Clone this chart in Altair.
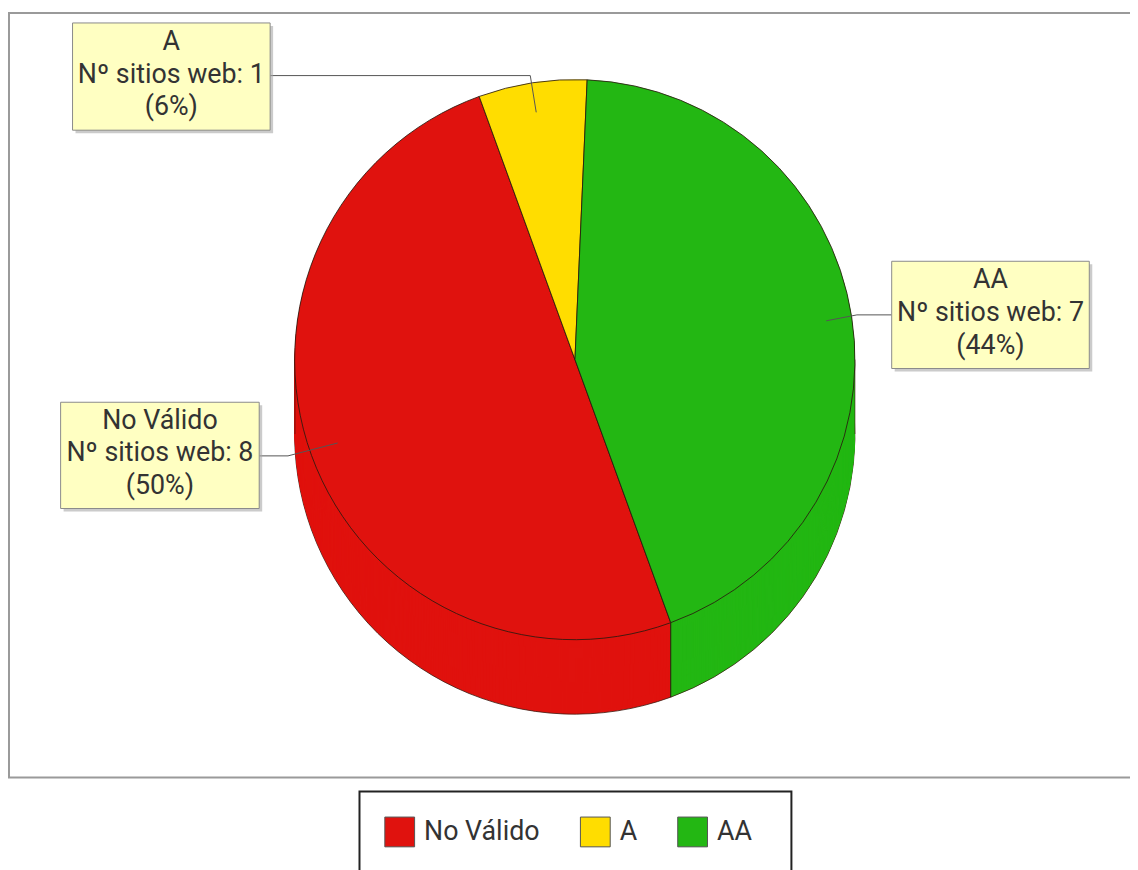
import math
import altair as alt
import pandas as pd

# ---------------- data ----------------
categories = ["No Válido", "A", "AA"]
site_counts = [8, 1, 7]
slice_colors = ["#E0120E", "#FFDD00", "#23B713"]
stack_order = [0, 1, 2]

total = sum(site_counts)
percents = [round(100 * v / total) for v in site_counts]
label_texts = [f"{c}\nNº sitios web: {v}\n({p}%)" for c, v, p in zip(categories, site_counts, percents)]

# ---------------- layout (view pixels) ----------------
W, H = 1130, 862
CX, CY, R, DEPTH = 571, 351, 282, 75
START_DEG = 160  # first slice starts here, clockwise from 12 o'clock
LINE_H = 33

# label boxes: (x0, y0, x1, y1) and connector polylines
label_boxes = [(53, 394, 253, 501), (65, 12, 264, 120), (890, 252, 1089, 360)]
connectors = [
    [(253, 448), (282, 448), (332, 435)],
    [(264, 65), (526, 65), (532, 102)],
    [(890, 306), (855, 306), (824, 312)],
]

df = pd.DataFrame({"cat": categories, "n": site_counts, "ord": stack_order})
one = alt.Data(values=[{"k": 0}])

start = math.radians(START_DEG)
theta = alt.Theta("n:Q", stack=True, scale=alt.Scale(range=[start, start + 2 * math.pi]))
color = alt.Color(
    "cat:N",
    scale=alt.Scale(domain=categories, range=slice_colors),
    legend=alt.Legend(
        title=None, orient="none", legendX=354, legendY=786, direction="horizontal",
        symbolType="square", symbolSize=900, symbolStrokeColor="#555", symbolStrokeWidth=1,
        labelFont="Roboto", labelFontSize=27, labelColor="#333", labelOffset=9,
        columnPadding=38, padding=25,
    ),
)
order = alt.Order("ord:Q")

layers = []

# plot border
layers.append(alt.Chart(one).mark_rect(fill="white", stroke="#9a9a9a", strokeWidth=2).encode(
    x=alt.value(1), x2=alt.value(1140), y=alt.value(2), y2=alt.value(772)))

# 3D pie: stacked copies for the side
for d in range(DEPTH, 0, -1):
    kw = dict(radius=R)
    if d == DEPTH:
        kw.update(stroke="#3a1a10", strokeWidth=1, strokeOpacity=0.8)
    layers.append(alt.Chart(df).mark_arc(**kw).encode(
        theta=theta, color=color, order=order,
        x=alt.value(CX), y=alt.value(CY + d)))

# side edges
edge_x = [CX - R, CX + R]
for ex in edge_x:
    layers.append(alt.Chart(one).mark_rule(color="#3a1a10", strokeWidth=1, opacity=0.6).encode(
        x=alt.value(ex), x2=alt.value(ex), y=alt.value(CY), y2=alt.value(CY + DEPTH)))
# vertical edge at the first slice boundary (front side)
bx = CX + R * math.sin(start)
by = CY - R * math.cos(start)
layers.append(alt.Chart(one).mark_rule(color="#2a1a10", strokeWidth=1).encode(
    x=alt.value(bx), x2=alt.value(bx), y=alt.value(by), y2=alt.value(by + DEPTH)))

# top face
layers.append(alt.Chart(df).mark_arc(radius=R, stroke="#2a1a10", strokeWidth=1, strokeOpacity=0.85).encode(
    theta=theta, color=color, order=order, x=alt.value(CX), y=alt.value(CY)))

# connectors
for pts in connectors:
    for (x0, y0), (x1, y1) in zip(pts[:-1], pts[1:]):
        layers.append(alt.Chart(one).mark_rule(color="#555", strokeWidth=1).encode(
            x=alt.value(x0), y=alt.value(y0), x2=alt.value(x1), y2=alt.value(y1)))

# label boxes + text
for (x0, y0, x1, y1), txt in zip(label_boxes, label_texts):
    layers.append(alt.Chart(one).mark_rect(fill="#a8a8a8", opacity=0.6).encode(
        x=alt.value(x0 + 3), x2=alt.value(x1 + 3), y=alt.value(y0 + 3), y2=alt.value(y1 + 3)))
    layers.append(alt.Chart(one).mark_rect(fill="#FFFFC2", stroke="#8a8a8a", strokeWidth=1).encode(
        x=alt.value(x0), x2=alt.value(x1), y=alt.value(y0), y2=alt.value(y1)))
    layers.append(alt.Chart(one).mark_text(
        align="center", baseline="middle", lineBreak="\n", lineHeight=LINE_H,
        font="Roboto", fontSize=27, color="#333").encode(
        x=alt.value((x0 + x1) / 2), y=alt.value((y0 + y1) / 2 - LINE_H - 2),
        text=alt.value(txt)))

# legend frame
layers.append(alt.Chart(one).mark_rect(fill="transparent", stroke="#222", strokeWidth=2).encode(
    x=alt.value(354), x2=alt.value(789), y=alt.value(786), y2=alt.value(880)))

chart = alt.layer(*layers).properties(
    width=W, height=H, padding=0, autosize=alt.AutoSizeParams(type="none"),
    background="white",
).configure_view(stroke=None)

chart.save("out.html", embed_options={"renderer": "svg", "actions": False})
